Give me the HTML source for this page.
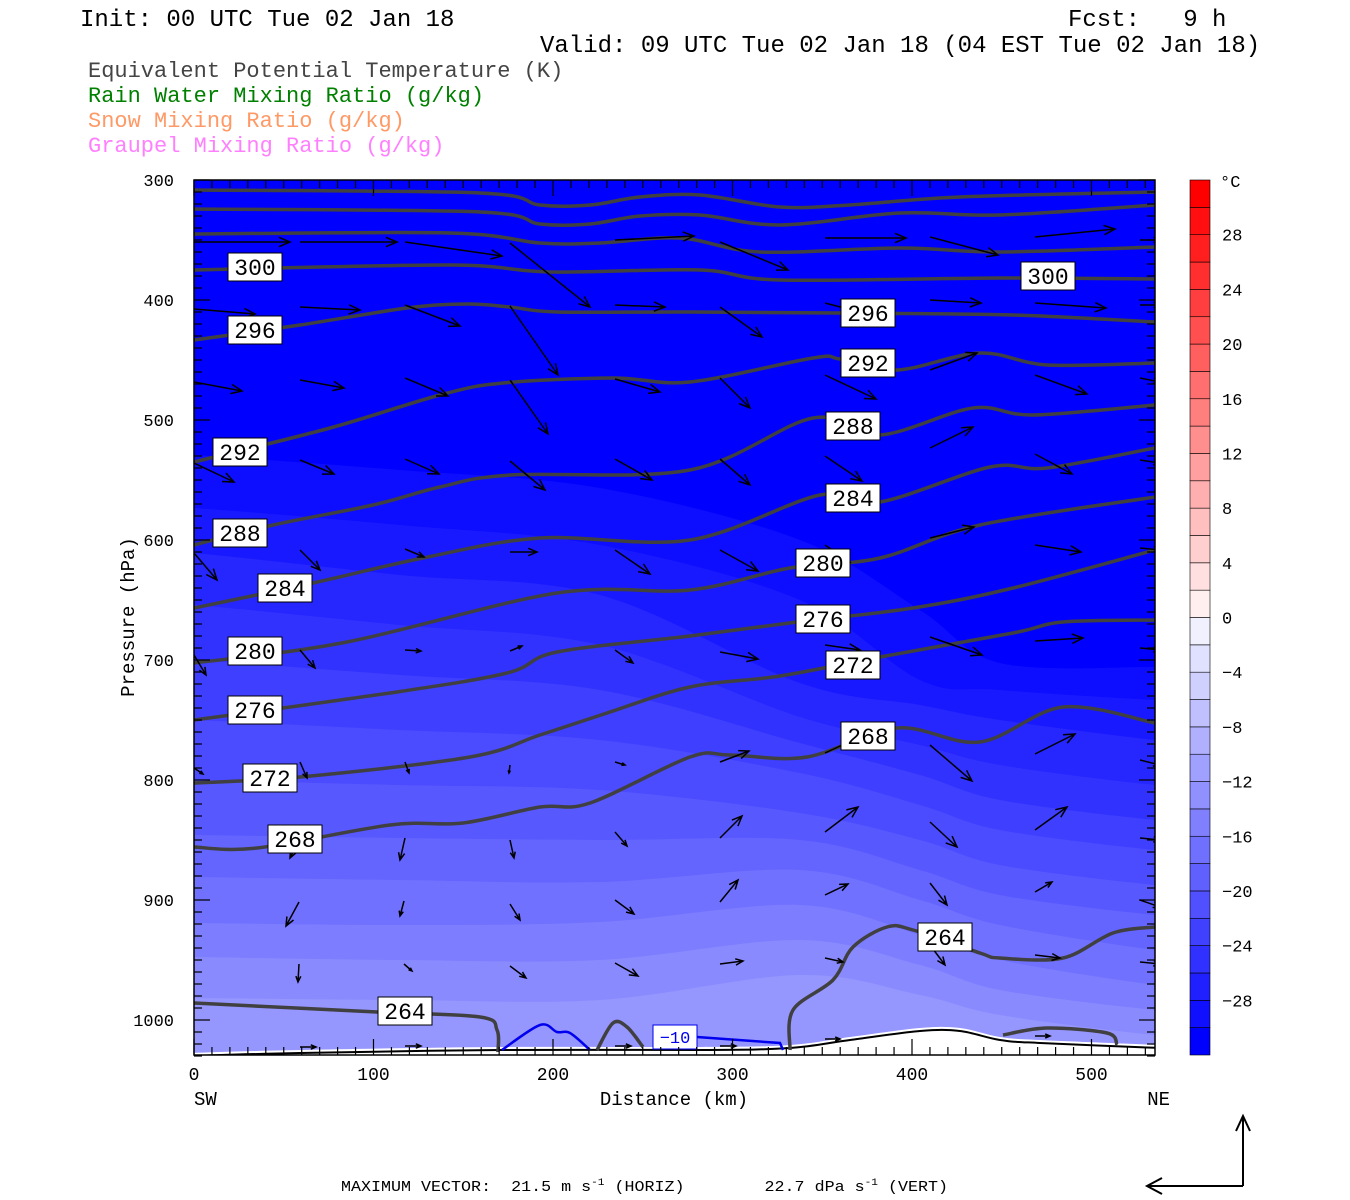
<!DOCTYPE html>
<html><head><meta charset="utf-8"><style>
body{margin:0;background:#fff;width:1350px;height:1200px;overflow:hidden}
svg{display:block}
text{font-family:"Liberation Mono",monospace}
</style></head><body>
<svg id="s" width="1350" height="1200" xmlns="http://www.w3.org/2000/svg">
<defs><clipPath id="cp"><rect x="194" y="180" width="961" height="875"/></clipPath></defs>
<g id="bands" clip-path="url(#cp)"></g>
<g id="terr" clip-path="url(#cp)"></g>
<g id="theta" clip-path="url(#cp)" fill="none" stroke="#404040" stroke-width="3.5"></g>
<g id="vec" clip-path="url(#cp)" stroke="#000" stroke-width="1.5" fill="none"></g>
<g id="labs"></g>
<g id="axes"></g>
<rect x="194" y="180" width="961" height="875" fill="none" stroke="#000" stroke-width="1.5"/>
<text x="80" y="26" font-size="24">Init: 00 UTC Tue 02 Jan 18</text>
<text x="1068" y="26" font-size="24" xml:space="preserve">Fcst:   9 h</text>
<text x="540" y="52" font-size="24">Valid: 09 UTC Tue 02 Jan 18 (04 EST Tue 02 Jan 18)</text>
<text x="88" y="77" font-size="22" fill="#444">Equivalent Potential Temperature (K)</text>
<text x="88" y="102" font-size="22" fill="#008000">Rain Water Mixing Ratio (g/kg)</text>
<text x="88" y="127" font-size="22" fill="#ff9966">Snow Mixing Ratio (g/kg)</text>
<text x="88" y="152" font-size="22" fill="#ff80ff">Graupel Mixing Ratio (g/kg)</text>
<text x="674" y="1105" font-size="19" text-anchor="middle">Distance (km)</text>
<text x="194" y="1105" font-size="19">SW</text>
<text x="1170" y="1105" font-size="19" text-anchor="end">NE</text>
<text transform="translate(134,617) rotate(-90)" font-size="19" text-anchor="middle">Pressure (hPa)</text>
<text x="341" y="1191" font-size="15" xml:space="preserve" textLength="607" lengthAdjust="spacingAndGlyphs">MAXIMUM VECTOR:  21.5 m s<tspan dy="-6" font-size="10">-1</tspan><tspan dy="6"> (HORIZ)        22.7 dPa s</tspan><tspan dy="-6" font-size="10">-1</tspan><tspan dy="6"> (VERT)</tspan></text>
<g stroke="#000" stroke-width="2" fill="none">
<path d="M1243 1186V1116M1236 1131L1243 1116L1250 1131"/>
<path d="M1243 1186H1147M1162 1178L1147 1186L1162 1194"/>
</g>
<g id="cbar"></g>
</svg>
<script>
const NS="http://www.w3.org/2000/svg";
function el(p,t,a,txt){const e=document.createElementNS(NS,t);for(const k in a)e.setAttribute(k,a[k]);if(txt!==undefined)e.textContent=txt;document.getElementById(p).appendChild(e);return e;}
function smooth(pts){let d="M"+pts[0][0]+" "+pts[0][1];for(let i=0;i<pts.length-1;i++){const p0=pts[i-1]||pts[i],p1=pts[i],p2=pts[i+1],p3=pts[i+2]||p2;
const c1=[p1[0]+(p2[0]-p0[0])/6,p1[1]+(p2[1]-p0[1])/6],c2=[p2[0]-(p3[0]-p1[0])/6,p2[1]-(p3[1]-p1[1])/6];
d+=" C"+c1[0].toFixed(1)+" "+c1[1].toFixed(1)+" "+c2[0].toFixed(1)+" "+c2[1].toFixed(1)+" "+p2[0]+" "+p2[1];}return d;}
el("bands","rect",{x:194,y:180,width:961,height:875,fill:"#0000ff"});
const XS=[194,400,600,800,920,1000,1155];
const B=[[455,470,488,540,610,663,667],[508,525,545,600,680,690,700],[553,575,595,683,705,720,740],[605,625,645,717,745,765,785],
[660,675,690,743,775,800,820],[720,730,740,773,805,830,850],[780,785,790,813,840,865,885],[835,838,840,840,870,895,915],
[877,880,882,870,900,925,950],[923,925,922,905,935,960,985],[957,960,960,940,965,990,1010],[998,1000,1000,975,995,1015,1035]];
B.forEach((b,i)=>{const c=Math.round((i+1)*12.5);const pts=[[150,b[0]]].concat(XS.map((x,j)=>[x,b[j]])).concat([[1200,b[6]]]);
el("bands","path",{d:smooth(pts)+" L1200 1100 L150 1100Z",fill:`rgb(${c},${c},255)`});});
const T=[[190,1053],[300,1050],[500,1047],[700,1047],[790,1045],[850,1037],[920,1028],[960,1028],[1000,1037],[1040,1040],[1160,1045]];
el("terr","path",{d:smooth(T)+" L1160 1060 L190 1060Z",fill:"#fff"});
el("terr","path",{d:smooth(T.map(p=>[p[0],p[1]+3])),fill:"none",stroke:"#000","stroke-width":2});
const L=[
[[194,190],[480,193],[540,205],[590,205],[640,197],[700,195],[780,207],[850,205],[960,197],[1155,192]],
[[194,209],[480,212],[540,224],[590,224],[640,216],[700,215],[780,225],[900,213],[1000,215],[1155,205]],
[[194,234],[450,233],[540,243],[600,243],[680,238],[760,252],[900,248],[1000,252],[1155,247]],
[[194,270],[450,265],[550,272],[700,270],[780,280],[1000,278],[1155,279]],
[[194,340],[300,325],[407,308],[467,304],[510,307],[557,312],[690,312],[840,313],[1013,315],[1155,322]],
[[194,462],[330,428],[440,395],[503,383],[613,378],[690,382],[813,358],[840,359],[897,370],[980,353],[1047,365],[1155,363]],
[[194,545],[273,525],[373,505],[440,487],[510,475],[690,470],[813,418],[880,435],[973,408],[1033,415],[1155,405]],
[[194,608],[313,583],[423,558],[540,538],[690,540],[820,495],[880,502],[990,467],[1047,468],[1155,448]],
[[194,663],[347,642],[557,593],[690,590],[790,568],[880,558],[980,525],[1155,497]],
[[194,720],[390,693],[507,673],[557,652],[690,636],[797,622],[913,608],[1013,588],[1155,550]],
[[194,783],[300,777],[470,757],[540,735],[607,713],[690,687],[780,676],[880,657],[1013,633],[1063,622],[1155,620]],
[[194,847],[257,848],[390,825],[463,823],[540,807],[590,803],[690,757],[730,755],[807,757],[897,728],[980,742],[1063,707],[1155,723]],
[[194,1003],[377,1012],[480,1017],[497,1030],[498,1052]],
[[790,1050],[793,1010],[833,980],[853,947],[887,927],[913,930],[980,953],[1000,958],[1063,958],[1113,933],[1155,927]],
[[597,1050],[613,1023],[627,1027],[643,1047]],
[[1003,1035],[1047,1028],[1107,1033],[1117,1045]]];
L.forEach(p=>el("theta","path",{d:smooth(p)}));
el("theta","path",{d:smooth([[502,1050],[540,1025],[557,1032],[570,1033],[590,1050]]),stroke:"#0000ee","stroke-width":2.5});
el("theta","path",{d:"M697 1037 L780 1043 L783 1050",stroke:"#0000ee","stroke-width":2.5});
const V=[[194,242,290,242],[300,242,397,242],[405,242,502,256],[510,243,590,307],[615,240,694,236],[720,242,788,270],[825,238,906,238],[930,237,998,255],[1035,237,1115,229],[1140,240,1160,240],
[194,309,255,314],[300,307,360,310],[405,305,460,326],[510,306,558,375],[615,305,665,307],[720,307,762,337],[825,303,890,320],[930,300,981,303],[1035,303,1106,308],[1140,305,1160,305],
[194,382,242,391],[300,380,344,388],[405,378,448,396],[510,380,548,434],[615,379,660,392],[720,378,750,408],[825,375,876,399],[930,370,977,353],[1035,375,1087,394],[1140,378,1160,382],
[194,463,234,482],[300,460,334,474],[405,459,439,474],[510,461,545,490],[615,459,652,480],[720,459,750,485],[825,456,862,481],[930,448,973,427],[1035,454,1072,474],[1140,460,1160,463],
[194,553,217,580],[300,550,320,570],[405,549,424,557],[510,552,537,552],[615,550,650,574],[720,550,758,571],[825,545,850,562],[930,538,974,527],[1035,545,1081,552],[1140,548,1160,550],
[194,655,206,675],[300,650,315,668],[405,650,421,651],[510,651,522,646],[615,650,633,663],[720,652,758,659],[825,645,860,650],[930,637,982,655],[1035,641,1083,638],[1140,648,1160,650],
[194,768,203,774],[300,762,307,778],[405,762,409,773],[510,765,509,773],[615,762,625,765],[720,762,749,751],[825,753,864,735],[930,745,972,781],[1035,754,1075,734],[1140,760,1160,765],
[300,838,290,858],[405,838,400,860],[510,840,514,858],[615,832,627,846],[720,838,742,816],[825,832,858,807],[930,822,957,847],[1035,830,1067,807],[1140,838,1160,840],
[299,902,286,926],[404,901,400,916],[510,904,520,920],[615,900,634,914],[720,902,738,880],[825,895,848,884],[930,883,947,905],[1035,892,1052,882],[1140,900,1160,907],
[299,964,298,982],[404,964,412,971],[510,966,526,978],[615,963,638,976],[720,964,743,961],[825,958,843,962],[930,945,945,965],[1035,955,1060,958],[1140,962,1160,964],
[300,1047,316,1047],[405,1046,421,1046],[615,1046,631,1046],[720,1046,736,1046],[825,1039,840,1039],[1035,1036,1050,1036]];
V.forEach(v=>{const [x1,y1,x2,y2]=v;const dx=x2-x1,dy=y2-y1,len=Math.hypot(dx,dy);const h=Math.min(12,len*0.35);const a=Math.atan2(dy,dx);
const p1=[x2-h*Math.cos(a-0.4),y2-h*Math.sin(a-0.4)],p2=[x2-h*Math.cos(a+0.4),y2-h*Math.sin(a+0.4)];
el("vec","path",{d:`M${x1} ${y1}L${x2} ${y2}M${p1[0].toFixed(1)} ${p1[1].toFixed(1)}L${x2} ${y2}L${p2[0].toFixed(1)} ${p2[1].toFixed(1)}`});});
const LB=[[255,267,"300"],[255,330,"296"],[240,452,"292"],[240,533,"288"],[285,588,"284"],[255,651,"280"],[255,710,"276"],[270,778,"272"],[295,839,"268"],[405,1011,"264"],[945,937,"264"],[1048,276,"300"],[868,313,"296"],[868,363,"292"],[853,426,"288"],[853,498,"284"],[823,563,"280"],[823,619,"276"],[853,665,"272"],[868,736,"268"]];
LB.forEach(l=>{el("labs","rect",{x:l[0]-27,y:l[1]-14,width:54,height:28,fill:"#fff",stroke:"#000","stroke-width":1});
el("labs","text",{x:l[0],y:l[1]+8,"font-size":23,"text-anchor":"middle"},l[2]);});
el("labs","rect",{x:653,y:1025,width:44,height:24,fill:"#fff",stroke:"#0000ee","stroke-width":1});
el("labs","text",{x:675,y:1043,"font-size":17,"text-anchor":"middle",fill:"#0000ee"},"\u221210");
const yP=p=>180+(p-300)*1.2;
for(let p=300;p<=1030;p+=10){const y=yP(p);const L2=(p%100==0)?16:8;
el("axes","line",{x1:194,y1:y,x2:194+L2,y2:y,stroke:"#000","stroke-width":1.2});
el("axes","line",{x1:1155,y1:y,x2:1155-L2,y2:y,stroke:"#000","stroke-width":1.2});
if(p%100==0)el("axes","text",{x:174,y:y+6,"font-size":17,"text-anchor":"end"},String(p));}
const xD=d=>194+d*1.795;
for(let d=0;d<=535;d+=10){const x=xD(d);const L2=(d%100==0)?16:8;
el("axes","line",{x1:x,y1:1055,x2:x,y2:1055-L2,stroke:"#000","stroke-width":1.2});
el("axes","line",{x1:x,y1:180,x2:x,y2:180+L2,stroke:"#000","stroke-width":1.2});
if(d%100==0)el("axes","text",{x:x,y:1080,"font-size":18,"text-anchor":"middle"},String(d));}
const h=875/32;
for(let i=0;i<32;i++){const T=-32+2*i;let col;
if(T<0){const c=Math.round((i)*16);col=`rgb(${c},${c},255)`;}else{const k=i-16;const c=Math.round(255-(k+1)*16);col=`rgb(255,${Math.max(0,c)},${Math.max(0,c)})`;}
el("cbar","rect",{x:1190,y:1055-(i+1)*h,width:20,height:h,fill:col,stroke:"#000","stroke-width":0.6});}
el("cbar","text",{x:1220,y:187,"font-size":17},"\u00b0C");
for(let T=28;T>=-28;T-=4){const y=1055-(T+32)/2*h;el("cbar","text",{x:1222,y:y+6,"font-size":17},(T<0?"\u2212":"")+Math.abs(T));}
</script>
</body></html>
